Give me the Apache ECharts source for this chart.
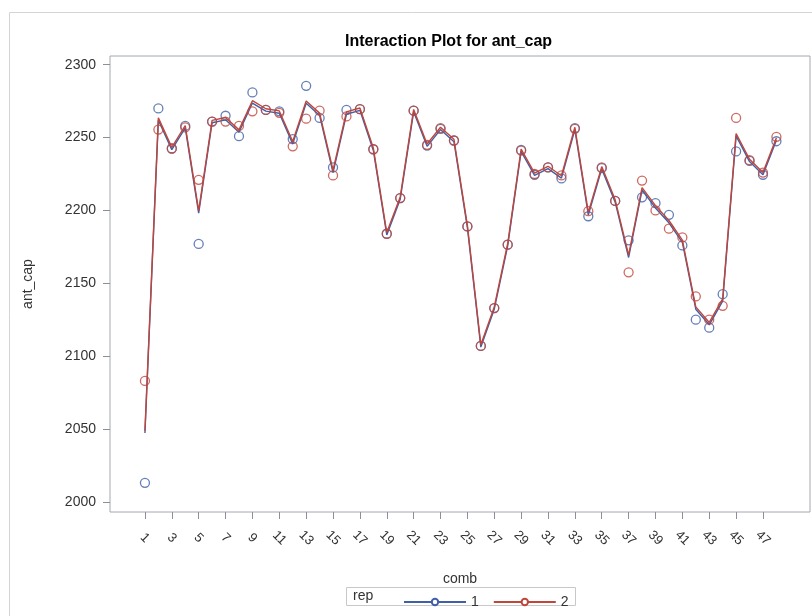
<!DOCTYPE html>
<html>
<head>
<meta charset="utf-8">
<script src="https://cdn.jsdelivr.net/npm/echarts@6/dist/echarts.min.js"></script>
<style>
html,body{margin:0;padding:0;background:#fff;}
#chart{width:812px;height:616px;}
</style>
</head>
<body>
<div id="chart"></div>
<script>
// categories (comb 1..48)
var comb = [1,2,3,4,5,6,7,8,9,10,11,12,13,14,15,16,17,18,19,20,21,22,23,24,25,26,27,28,29,30,31,32,33,34,35,36,37,38,39,40,41,42,43,44,45,46,47,48];
// observed ant_cap, rep 1
var rep1 = [2013,2270,2242.5,2258,2177,2261,2265,2251,2281,2269,2268,2249,2285.5,2263.5,2229.5,2269,2269.5,2242,2184,2208.5,2268.5,2244.5,2256,2248,2189,2107,2133,2176.5,2241.5,2224.5,2229.5,2222,2256.5,2196,2229,2206.5,2179.5,2209,2205,2197,2176,2125,2119.5,2142.5,2240.5,2234,2224.5,2247.5];
// observed ant_cap, rep 2
var rep2 = [2083,2255.5,2242.5,2257,2221,2261,2261,2258,2268,2269,2267,2244,2263,2268.5,2224,2264.5,2269.5,2242,2184,2208.5,2268.5,2245,2256.5,2248,2189,2107,2133,2176.5,2241,2225,2229.5,2224,2256,2199.5,2229.5,2206.5,2157.5,2220.5,2200,2187.5,2181.5,2141,2125,2134.5,2263.5,2234.5,2226,2250.5];
// fitted lines
var fit1 = [2047.2,2262,2241.7,2256.7,2198.2,2260.2,2262.2,2253.7,2273.7,2268.2,2266.7,2245.7,2273.5,2265.2,2226,2266,2268.7,2241.2,2183.2,2207.7,2267.7,2244,2255.5,2247.2,2188.2,2106.2,2132.2,2175.7,2240.5,2224,2228.7,2222.2,2255.5,2197,2228.5,2205.7,2167.7,2214,2201.7,2191.5,2178,2132.2,2121.5,2137.7,2251.2,2233.5,2224.5,2248.2];
var fit2 = [2048.8,2263.6,2243.3,2258.3,2199.8,2261.8,2263.8,2255.3,2275.3,2269.8,2268.3,2247.3,2275.1,2266.8,2227.6,2267.6,2270.3,2242.8,2184.8,2209.3,2269.3,2245.6,2257.1,2248.8,2189.8,2107.8,2133.8,2177.3,2242.1,2225.6,2230.3,2223.8,2257.1,2198.6,2230.1,2207.3,2169.3,2215.6,2203.3,2193.1,2179.6,2133.8,2123.1,2139.3,2252.8,2235.1,2226.1,2249.8];
// tick labels
var xTicks = [1,3,5,7,9,11,13,15,17,19,21,23,25,27,29,31,33,35,37,39,41,43,45,47];
var yTicks = [2000,2050,2100,2150,2200,2250,2300];

var BLUE = '#3f5fa6', RED = '#c0453a';
function pairs(vals){ return comb.map(function(c,i){ return [c, vals[i]]; }); }

var chart = echarts.init(document.getElementById('chart'), null, {renderer:'canvas'});
var font = 'Liberation Sans, Arial, sans-serif';
chart.setOption({
  animation:false,
  backgroundColor:'#fff',
  textStyle:{fontFamily:font},
  title:{
    text:'Interaction Plot for ant_cap', left:340, top:29,
    textStyle:{fontSize:16, fontWeight:'bold', color:'#000', fontFamily:font}
  },
  grid:{left:110, top:56, width:700, height:456, show:true, borderColor:'#a3a8b0', borderWidth:1, backgroundColor:'transparent'},
  xAxis:{
    type:'value', min:-1.6, max:50.5,
    name:'comb', nameLocation:'middle', nameGap:60,
    nameTextStyle:{fontSize:14, color:'#333', fontFamily:font},
    axisLine:{show:false, onZero:false},
    splitLine:{show:false},
    axisTick:{show:true, length:7, customValues:xTicks, lineStyle:{color:'#8a8f99'}},
    axisLabel:{customValues:xTicks, rotate:-45, align:'center', verticalAlign:'middle', margin:26, fontSize:13, color:'#333', fontFamily:font,
      formatter:function(v){ return String(v); }}
  },
  yAxis:{
    type:'value', min:1993, max:2306,
    name:'ant_cap', nameLocation:'middle', nameGap:75, nameRotate:90,
    nameTextStyle:{fontSize:14, color:'#333', fontFamily:font},
    axisLine:{show:false, onZero:false},
    splitLine:{show:false},
    axisTick:{show:true, length:7, customValues:yTicks, lineStyle:{color:'#8a8f99'}},
    axisLabel:{customValues:yTicks, margin:14, fontSize:14, color:'#333', fontFamily:font,
      formatter:function(v){ return String(v); }}
  },
  legend:{
    data:['1','2'], left:398, top:590, itemWidth:62, itemHeight:8, itemGap:14,
    selectedMode:false,
    textStyle:{fontSize:14, color:'#333', fontFamily:font}
  },
  graphic:[
    {type:'rect', shape:{x:9.5, y:12.5, width:810, height:640}, style:{fill:'none', stroke:'#d4d4d4', lineWidth:1}, silent:true},
    {type:'rect', shape:{x:346.5, y:587.5, width:229, height:18}, style:{fill:'none', stroke:'#c8c8c8', lineWidth:1}, silent:true},
    {type:'text', left:353, top:589, style:{text:'rep', font:'14px ' + font, fill:'#333'}, silent:true}
  ],
  series:[
    {name:'1', type:'line', data:pairs(fit1), symbol:'emptyCircle', symbolSize:7, showSymbol:false,
     lineStyle:{color:BLUE, width:1.4}, itemStyle:{color:BLUE, borderWidth:1.3}, z:2},
    {name:'1', type:'scatter', data:pairs(rep1), symbol:'circle', symbolSize:9,
     itemStyle:{color:'rgba(0,0,0,0)', borderColor:BLUE, borderWidth:1.3}, z:3},
    {name:'2', type:'line', data:pairs(fit2), symbol:'emptyCircle', symbolSize:7, showSymbol:false,
     lineStyle:{color:RED, width:1.4}, itemStyle:{color:RED, borderWidth:1.3}, z:4},
    {name:'2', type:'scatter', data:pairs(rep2), symbol:'circle', symbolSize:9,
     itemStyle:{color:'rgba(0,0,0,0)', borderColor:RED, borderWidth:1.3}, z:5}
  ]
});
</script>
</body>
</html>
